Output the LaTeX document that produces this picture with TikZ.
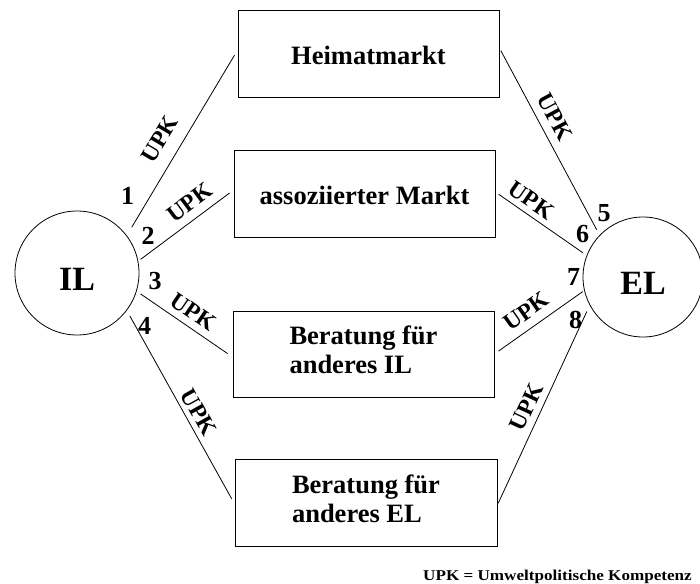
\documentclass[tikz,border=0pt]{standalone}
\usepackage{fontspec}
\setmainfont{Liberation Serif}
\usepackage{graphicx}
\begin{document}
\begin{tikzpicture}[x=1pt,y=-1pt,
  box/.style={draw, line width=0.8pt, minimum width=261pt, minimum height=87pt, inner sep=0pt, font=\fontsize{26.5}{29}\selectfont\bfseries},
  land/.style={draw, circle, line width=0.8pt, inner sep=0pt, text height=34pt, font=\fontsize{34}{40}\selectfont\bfseries},
  conn/.style={line width=0.8pt},
  upk/.style={sloped, inner sep=2pt, font=\fontsize{23.5}{25}\selectfont\bfseries},
  num/.style={inner sep=0pt, font=\fontsize{26}{28}\selectfont\bfseries}]
\useasboundingbox (0,0) rectangle (700,583);
% countries
\node[land, minimum size=124pt] (IL) at (77,273) {IL};
\node[land, minimum size=120pt] (EL) at (643,277) {EL};
% boxes
\node[box, text height=23pt] (hm) at (368.5,53.5) {Heimatmarkt};
\node[box, text height=23pt] (am) at (364.5,193.5) {assoziierter Markt};
\node[box, align=left, minimum height=86pt, text depth=8pt] (bil) at (363.5,354) {Beratung für\\anderes IL};
\node[box, align=left, minimum width=262pt, text depth=8pt] (bel) at (366,502.5) {Beratung für\\anderes EL};
% numbers
\node[num] (n1) at (127.5,196) {1};
\node[num] (n2) at (148,235.5) {2};
\node[num] (n3) at (155,281) {3};
\node[num] (n4) at (144.5,326) {4};
\node[num] (n5) at (604,213) {5};
\node[num] (n6) at (582.5,234) {6};
\node[num] (n7) at (573.5,277) {7};
\node[num] (n8) at (575.5,320) {8};
% connectors
\draw[conn, shorten <=9.6pt, shorten >=6pt] (IL.37.5) -- ([yshift=3.5pt]hm.west) node[upk, pos=0.46, above=11pt] (u1) {UPK};
\draw[conn, shorten <=2.8pt, shorten >=5pt] (IL.11.4) -- ([yshift=3.5pt]am.west) node[upk, pos=0.64, above=6.4pt] (u2) {UPK};
\draw[conn, shorten <=4.6pt, shorten >=6pt] (IL.-17.2) -- ([yshift=-3pt]bil.west) node[upk, pos=0.5, above=4.6pt] (u3) {UPK};
\draw[conn, shorten <=6pt, shorten >=6pt] (IL.-37.5) -- ([yshift=-1.5pt]bel.west) node[upk, pos=0.56, above=2.8pt] (u4) {UPK};
\draw[conn, shorten <=3pt, shorten >=6pt] ([yshift=5.5pt]hm.east) -- (EL.136) node[upk, pos=0.41, above=6.3pt] (u5) {UPK};
\draw[conn, shorten <=4pt, shorten >=4.8pt] ([yshift=1.5pt]am.east) -- (EL.159.3) node[upk, pos=0.31, above=3.8pt] (u6) {UPK};
\draw[conn, shorten <=5pt, shorten >=1.8pt] (bil.east) -- (EL.-167.6) node[upk, pos=0.46, above=6.3pt] (u7) {UPK};
\draw[conn, shorten <=2pt, shorten >=6.8pt] ([yshift=-2.5pt]bel.east) -- (EL.-152.4) node[upk, pos=0.46, above=4.6pt] (u8) {UPK};
% legend
\node[anchor=base east, inner sep=0pt, font=\fontsize{15}{18}\selectfont\bfseries] (leg) at (692,580) {\scalebox{1.14}[1]{UPK = Umweltpolitische Kompetenz}};
\end{tikzpicture}
\end{document}
